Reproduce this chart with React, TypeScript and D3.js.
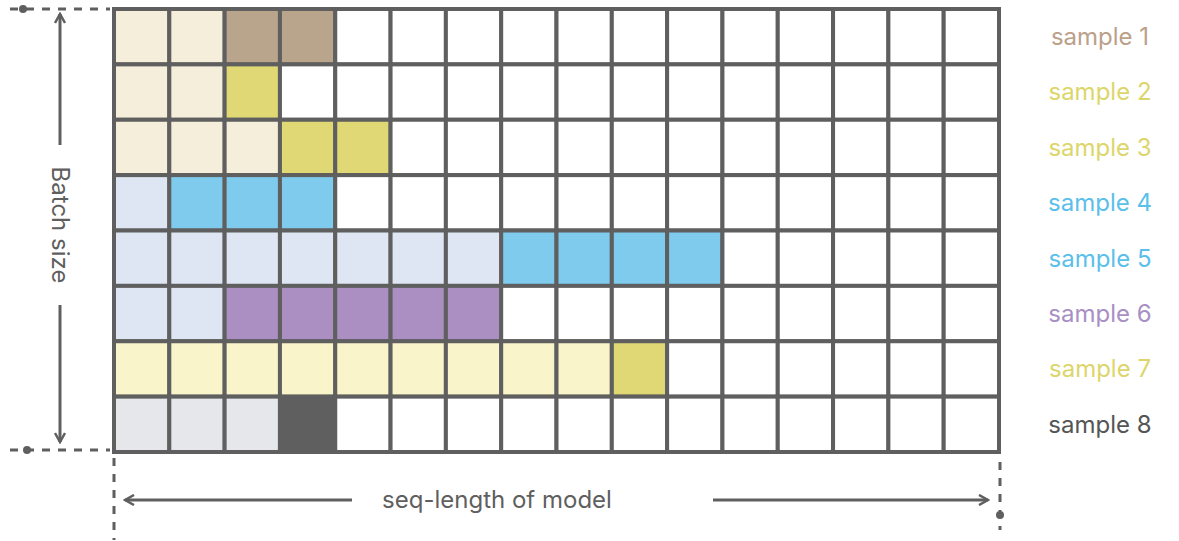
import * as d3 from "d3";

const sampleLabels = ["sample 1", "sample 2", "sample 3", "sample 4", "sample 5", "sample 6", "sample 7", "sample 8"];
const labelColors = ["#bba08a", "#dcd66a", "#dcd66a", "#5bbfea", "#5bbfea", "#a88fc4", "#dcd66a", "#555555"];
// cell kind per row: c=cream, m=mixed, y=yellow, b=light blue, B=blue, p=purple, l=light yellow, g=light gray, d=dark
const rows = ["ccmm", "ccy", "cccyy", "bBBB", "bbbbbbbBBBB", "bbppppp", "llllllllly", "gggd"];
const fills: Record<string, string> = {
  c: "#f5eedb", m: "#b9a48c", y: "#dfd874", b: "#dde6f2", B: "#7fcbee",
  p: "#ab8fc3", l: "#faf4cb", g: "#e5e7ea", d: "#5f5f5f",
};
const nCols = 16;

export default function App() {
  const W = 1179, H = 541;
  const x = d3.scaleLinear().domain([0, nCols]).range([114, 999]);
  const y = d3.scaleLinear().domain([0, rows.length]).range([9, 452]);
  const grey = "#5f5f5f";
  const font = "Inter, 'Open Sans', sans-serif";
  return (
    <svg width={W} height={H} style={{ position: "absolute", left: 0, top: 0 }}>
      <defs>
        <marker id="ah" viewBox="0 0 12 12" refX="10" refY="6" markerWidth="12" markerHeight="12" markerUnits="userSpaceOnUse" orient="auto-start-reverse">
          <path d="M1,1 L10,6 L1,11" fill="none" stroke={grey} strokeWidth="2.5" />
        </marker>
      </defs>
      {rows.map((r, ri) =>
        d3.range(nCols).map((ci) => (
          <rect key={`${ri}-${ci}`} x={x(ci)} y={y(ri)} width={x(1) - x(0)} height={y(1) - y(0)}
            fill={ci < r.length ? fills[r[ci]] : "#fff"} stroke={grey} strokeWidth={4} />
        ))
      )}
      {sampleLabels.map((s, i) => (
        <text key={s} x={1100} y={y(i + 0.5)} dy="0.35em" textAnchor="middle" fontFamily={font} fontSize={24} fill={labelColors[i]}>{s}</text>
      ))}
      {/* left guide */}
      <line x1={10} x2={110} y1={9} y2={9} stroke={grey} strokeWidth={3} strokeDasharray="8 8" />
      <circle cx={23} cy={9} r={4} fill={grey} />
      <line x1={10} x2={110} y1={450} y2={450} stroke={grey} strokeWidth={3} strokeDasharray="8 8" />
      <circle cx={27} cy={450} r={4} fill={grey} />
      <line x1={60} x2={60} y1={145} y2={14} stroke={grey} strokeWidth={3} markerEnd="url(#ah)" />
      <line x1={60} x2={60} y1={305} y2={442} stroke={grey} strokeWidth={3} markerEnd="url(#ah)" />
      <text transform={`translate(60,225) rotate(90)`} textAnchor="middle" dy="0.35em" fontFamily={font} fontSize={24} fill={grey}>Batch size</text>
      {/* bottom guide */}
      <line x1={114} x2={114} y1={458} y2={540} stroke={grey} strokeWidth={3} strokeDasharray="8 8" />
      <line x1={1000} x2={1000} y1={462} y2={530} stroke={grey} strokeWidth={3} strokeDasharray="8 8" />
      <circle cx={1000} cy={515} r={4} fill={grey} />
      <line x1={352} x2={125} y1={500} y2={500} stroke={grey} strokeWidth={3} markerEnd="url(#ah)" />
      <line x1={713} x2={988} y1={500} y2={500} stroke={grey} strokeWidth={3} markerEnd="url(#ah)" />
      <text x={497} y={500} dy="0.35em" textAnchor="middle" fontFamily={font} fontSize={24} fill={grey}>seq-length of model</text>
    </svg>
  );
}
